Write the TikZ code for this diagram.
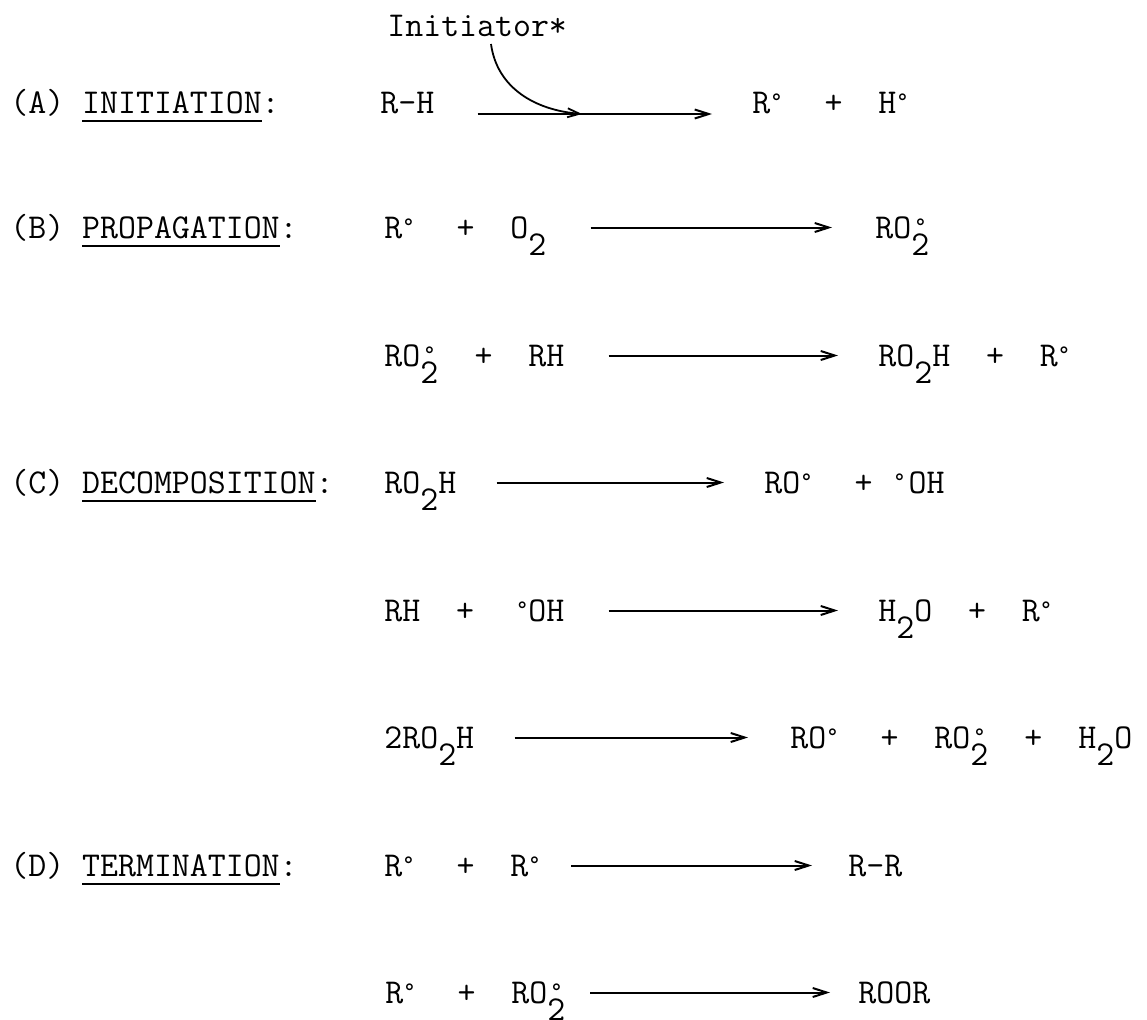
\documentclass[tikz,border=0pt]{standalone}
\usepackage{fontspec}
\usetikzlibrary{arrows.meta}

% typewriter face, one character cell = 0.525em
\newcommand\tyw{\ttfamily\fontsize{17.43}{20}\selectfont}
% radical mark in a cell of its own (l/c/r alignment)
\newcommand\rdx[1]{\makebox[0.525em][#1]{\raisebox{2.3pt}{\fontsize{12}{12}\selectfont °}}}
% lowered subscript digit
\newcommand\lo[1]{\raisebox{-8.5pt}{#1}}
% lowered digit with the radical mark above it
\newcommand\lord[1]{\rlap{\raisebox{-8.5pt}{#1}}\rdx{c}}
% underlined word
\newcommand\ulab[1]{\setbox0=\hbox{#1}\rlap{\rule[-4.5pt]{\wd0}{0.9pt}}\box0}

\begin{document}
\begin{tikzpicture}[x=0.5pt, y=-0.5pt,
  every node/.style={inner sep=0pt, anchor=base west, font=\tyw},
  rx/.style={line width=1pt, -{Straight Barb[length=7pt,width=4.5pt]}},
  cv/.style={line width=0.9pt, -{Straight Barb[length=6pt,width=4.5pt]}}]
\useasboundingbox (0,0) rectangle (1147,1019);

% (A) initiation
\node (init) at (387,36) {Initiator*};
\node (labA) at (10,113) {(A)~\ulab{INITIATION}:};
\node (a1) at (380,113) {R-H};
\node (a2) at (752,113) {R\rdx{l}~~+~~H\rdx{l}};
\draw[rx] ([shift={(43,1)}]a1.base east) -- ([shift={(-40,1)}]a2.base west);
\coordinate (hit) at (582,114);
\draw[cv] ([shift={(104,8)}]init.base west) .. controls (497,88) and (535,110) .. (hit);

% (B) propagation
\node (labB) at (10,238) {(B)~\ulab{PROPAGATION}:};
\node (b1) at (384,238) {R\rdx{l}~~+~~O\lo{2}};
\node (b2) at (875,238) {RO\lord{2}};
\draw[rx] ([shift={(44,-10.5)}]b1.base east) -- ([shift={(-43,-10.5)}]b2.base west);

\node (b3) at (384,366) {RO\lord{2}~~+~~RH};
\node (b4) at (878,366) {RO\lo{2}H~~+~~R\rdx{l}};
\draw[rx] ([shift={(44,-10.5)}]b3.base east) -- ([shift={(-40,-10.5)}]b4.base west);

% (C) decomposition
\node (labC) at (10,493) {(C)~\ulab{DECOMPOSITION}:};
\node (c1) at (384,493) {RO\lo{2}H};
\node (c2) at (764,493) {RO\rdx{l}~~+~\rdx{c}OH};
\draw[rx] ([shift={(40,-10.5)}]c1.base east) -- ([shift={(-40,-10.5)}]c2.base west);

\node (c3) at (384,621) {RH~~+~~\rdx{r}OH};
\node (c4) at (878,621) {H\lo{2}O~~+~~R\rdx{l}};
\draw[rx] ([shift={(44,-10.5)}]c3.base east) -- ([shift={(-40,-10.5)}]c4.base west);

\node (c5) at (384,748) {2RO\lo{2}H};
\node (c6) at (790,748) {RO\rdx{l}~~+~~RO\lord{2}~~+~~H\lo{2}O};
\draw[rx] ([shift={(40,-10.5)}]c5.base east) -- ([shift={(-42,-10.5)}]c6.base west);

% (D) termination
\node (labD) at (10,876) {(D)~\ulab{TERMINATION}:};
\node (d1) at (384,876) {R\rdx{l}~~+~~R\rdx{l}};
\node (d2) at (848,876) {R-R};
\draw[rx] ([shift={(24,-10.5)}]d1.base east) -- ([shift={(-36,-10.5)}]d2.base west);

\node (d3) at (385,1003) {R\rdx{l}~~+~~RO\lord{2}};
\node (d4) at (858,1003) {ROOR};
\draw[rx] ([shift={(24,-10.5)}]d3.base east) -- ([shift={(-28,-10.5)}]d4.base west);
\end{tikzpicture}
\end{document}
